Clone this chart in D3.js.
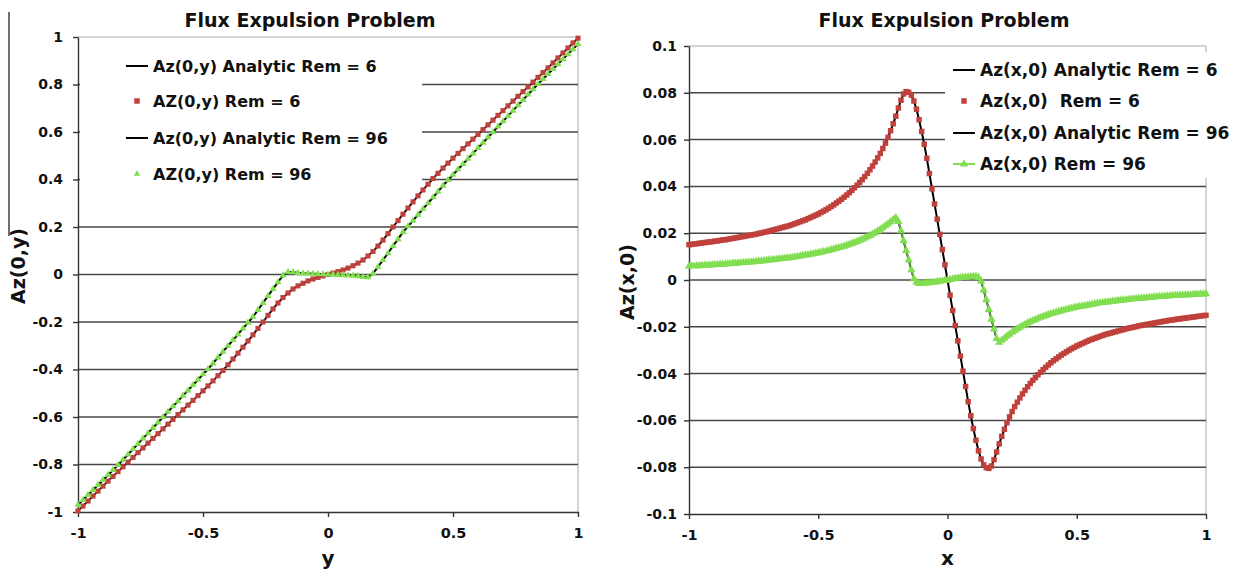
<!DOCTYPE html>
<html>
<head>
<meta charset="utf-8">
<script src="https://cdn.jsdelivr.net/npm/d3@7"></script>
<style>
  body { margin: 0; background: #fff; }
  svg text { font-family: "DejaVu Sans", Verdana, sans-serif; font-weight: bold; fill: #111; white-space: pre; }
</style>
</head>
<body>
<div id="chart"></div>
<script>
// ---- data ----
// left panel: Az(0,y), sampled every 0.02 in y
// (the analytic curves sit right on top of the numerical points, so they share the values)
var azY6 = [
  -0.995, -0.975, -0.954, -0.933, -0.912, -0.891, -0.87, -0.85, -0.83, -0.81,
  -0.79, -0.77, -0.75, -0.73, -0.71, -0.69, -0.67, -0.65, -0.63, -0.61,
  -0.59, -0.57, -0.55, -0.53, -0.51, -0.49, -0.469, -0.448, -0.426, -0.404,
  -0.38, -0.356, -0.331, -0.306, -0.28, -0.254, -0.227, -0.2, -0.172, -0.145,
  -0.12, -0.097, -0.078, -0.061, -0.048, -0.037, -0.027, -0.019, -0.012, -0.006,
  0,
  0.006, 0.012, 0.019, 0.027, 0.037, 0.048, 0.061, 0.078, 0.097, 0.12,
  0.145, 0.172, 0.2, 0.227, 0.254, 0.28, 0.306, 0.331, 0.356, 0.38,
  0.404, 0.426, 0.448, 0.469, 0.49, 0.51, 0.53, 0.55, 0.57, 0.59,
  0.61, 0.63, 0.65, 0.67, 0.69, 0.71, 0.73, 0.75, 0.77, 0.79,
  0.81, 0.83, 0.85, 0.87, 0.891, 0.912, 0.933, 0.954, 0.975, 0.995
];
var azY96 = [
  -0.97, -0.949, -0.928, -0.907, -0.886, -0.865, -0.844, -0.823, -0.802, -0.78,
  -0.758, -0.735, -0.713, -0.69, -0.668, -0.645, -0.623, -0.6, -0.578, -0.555,
  -0.533, -0.51, -0.488, -0.465, -0.443, -0.42, -0.398, -0.374, -0.349, -0.325,
  -0.3, -0.276, -0.252, -0.227, -0.203, -0.178, -0.149, -0.12, -0.09, -0.061,
  -0.032, -0.004, 0.011, 0.01, 0.007, 0.005, 0.004, 0.003, 0.002, 0.001,
  0,
  -0.001, -0.002, -0.003, -0.004, -0.005, -0.007, -0.01, -0.011, 0.004, 0.032,
  0.061, 0.09, 0.12, 0.149, 0.178, 0.203, 0.227, 0.252, 0.276, 0.3,
  0.325, 0.349, 0.374, 0.398, 0.42, 0.443, 0.465, 0.488, 0.51, 0.533,
  0.555, 0.578, 0.6, 0.623, 0.645, 0.668, 0.69, 0.713, 0.735, 0.758,
  0.78, 0.802, 0.823, 0.844, 0.865, 0.886, 0.907, 0.928, 0.949, 0.97
];

// right panel: Az(x,0), sampled every 0.01 in x
var azX6 = [
  0.0151, 0.0152, 0.0154, 0.0155, 0.0157, 0.0158, 0.0160, 0.0161, 0.0163, 0.0164,
  0.0166, 0.0167, 0.0169, 0.0171, 0.0172, 0.0174, 0.0176, 0.0178, 0.0180, 0.0182,
  0.0184, 0.0186, 0.0188, 0.0190, 0.0192, 0.0194, 0.0196, 0.0199, 0.0201, 0.0204,
  0.0206, 0.0209, 0.0212, 0.0215, 0.0218, 0.0221, 0.0224, 0.0227, 0.0230, 0.0233,
  0.0237, 0.0241, 0.0245, 0.0249, 0.0253, 0.0257, 0.0262, 0.0267, 0.0272, 0.0277,
  0.0282, 0.0288, 0.0294, 0.0300, 0.0307, 0.0314, 0.0321, 0.0329, 0.0337, 0.0345,
  0.0354, 0.0363, 0.0373, 0.0383, 0.0394, 0.0405, 0.0417, 0.0429, 0.0442, 0.0456,
  0.0471, 0.0487, 0.0504, 0.0522, 0.0541, 0.0562, 0.0585, 0.0610, 0.0638, 0.0668,
  0.0700, 0.0735, 0.0768, 0.0795, 0.0805, 0.0802, 0.0790, 0.0765, 0.0730, 0.0685,
  0.0635, 0.0580, 0.0520, 0.0455, 0.0390, 0.0325, 0.0260, 0.0195, 0.0130, 0.0065,
  0,
  -0.0065, -0.0130, -0.0195, -0.0260, -0.0325, -0.0390, -0.0455, -0.0520, -0.0580, -0.0635,
  -0.0685, -0.0730, -0.0765, -0.0790, -0.0802, -0.0805, -0.0795, -0.0768, -0.0735, -0.0700,
  -0.0668, -0.0638, -0.0610, -0.0585, -0.0562, -0.0541, -0.0522, -0.0504, -0.0487, -0.0471,
  -0.0456, -0.0442, -0.0429, -0.0417, -0.0405, -0.0394, -0.0383, -0.0373, -0.0363, -0.0354,
  -0.0345, -0.0337, -0.0329, -0.0321, -0.0314, -0.0307, -0.0300, -0.0294, -0.0288, -0.0282,
  -0.0277, -0.0272, -0.0267, -0.0262, -0.0257, -0.0253, -0.0249, -0.0245, -0.0241, -0.0237,
  -0.0233, -0.0230, -0.0227, -0.0224, -0.0221, -0.0218, -0.0215, -0.0212, -0.0209, -0.0206,
  -0.0204, -0.0201, -0.0199, -0.0196, -0.0194, -0.0192, -0.0190, -0.0188, -0.0186, -0.0184,
  -0.0182, -0.0180, -0.0178, -0.0176, -0.0174, -0.0172, -0.0171, -0.0169, -0.0167, -0.0166,
  -0.0164, -0.0163, -0.0161, -0.0160, -0.0158, -0.0157, -0.0155, -0.0154, -0.0152, -0.0151
];
var azX96 = [
  0.0059, 0.0060, 0.0060, 0.0061, 0.0061, 0.0062, 0.0063, 0.0063, 0.0064, 0.0065,
  0.0065, 0.0066, 0.0067, 0.0067, 0.0068, 0.0069, 0.0070, 0.0071, 0.0071, 0.0072,
  0.0073, 0.0074, 0.0075, 0.0076, 0.0077, 0.0078, 0.0079, 0.0080, 0.0081, 0.0082,
  0.0084, 0.0085, 0.0086, 0.0087, 0.0088, 0.0090, 0.0091, 0.0092, 0.0094, 0.0095,
  0.0097, 0.0098, 0.0100, 0.0102, 0.0104, 0.0106, 0.0108, 0.0110, 0.0112, 0.0114,
  0.0116, 0.0118, 0.0121, 0.0123, 0.0126, 0.0129, 0.0132, 0.0135, 0.0138, 0.0141,
  0.0144, 0.0148, 0.0152, 0.0156, 0.0160, 0.0164, 0.0169, 0.0174, 0.0179, 0.0184,
  0.0190, 0.0196, 0.0202, 0.0209, 0.0216, 0.0224, 0.0232, 0.0240, 0.0249, 0.0258,
  0.0266, 0.0250, 0.0210, 0.0168, 0.0126, 0.0085, 0.0043, 0.0005, -0.0010, -0.0015,
  -0.0015, -0.0014, -0.0013, -0.0012, -0.0011, -0.0010, -0.0008, -0.0006, -0.0004, -0.0002,
  0,
  0.0002, 0.0004, 0.0006, 0.0008, 0.0010, 0.0011, 0.0012, 0.0013, 0.0014, 0.0015,
  0.0015, 0.0010, -0.0005, -0.0043, -0.0085, -0.0126, -0.0168, -0.0210, -0.0250, -0.0266,
  -0.0258, -0.0249, -0.0240, -0.0232, -0.0224, -0.0216, -0.0209, -0.0202, -0.0196, -0.0190,
  -0.0184, -0.0179, -0.0174, -0.0169, -0.0164, -0.0160, -0.0156, -0.0152, -0.0148, -0.0144,
  -0.0141, -0.0138, -0.0135, -0.0132, -0.0129, -0.0126, -0.0123, -0.0121, -0.0118, -0.0116,
  -0.0114, -0.0112, -0.0110, -0.0108, -0.0106, -0.0104, -0.0102, -0.0100, -0.0098, -0.0097,
  -0.0095, -0.0094, -0.0092, -0.0091, -0.0090, -0.0088, -0.0087, -0.0086, -0.0085, -0.0084,
  -0.0082, -0.0081, -0.0080, -0.0079, -0.0078, -0.0077, -0.0076, -0.0075, -0.0074, -0.0073,
  -0.0072, -0.0071, -0.0071, -0.0070, -0.0069, -0.0068, -0.0067, -0.0067, -0.0066, -0.0065,
  -0.0065, -0.0064, -0.0063, -0.0063, -0.0062, -0.0061, -0.0061, -0.0060, -0.0060, -0.0059
];

// sample positions (regular grids)
var ySamples = d3.range(101).map(function(i) { return -1 + i * 0.02; });
var xSamples = d3.range(201).map(function(i) { return -1 + i * 0.01; });

// ticks and labels
var xTicks = [-1, -0.5, 0, 0.5, 1];
var yTicksLeft = [-1, -0.8, -0.6, -0.4, -0.2, 0, 0.2, 0.4, 0.6, 0.8, 1];
var yTicksRight = [-0.1, -0.08, -0.06, -0.04, -0.02, 0, 0.02, 0.04, 0.06, 0.08, 0.1];
var legendLeft = ["Az(0,y) Analytic Rem = 6", "AZ(0,y) Rem = 6", "Az(0,y) Analytic Rem = 96", "AZ(0,y) Rem = 96"];
var legendRight = ["Az(x,0) Analytic Rem = 6", "Az(x,0)  Rem = 6", "Az(x,0) Analytic Rem = 96", "Az(x,0) Rem = 96"];

var red = "#c0403c";
var green = "#80de50";

var svg = d3.select("#chart")
  .append("svg")
  .attr("width", 1233)
  .attr("height", 575);

// stray frame line at the far left of the page
svg.append("line")
  .attr("x1", 9).attr("x2", 9)
  .attr("y1", 12).attr("y2", 236)
  .attr("stroke", "#111").attr("stroke-width", 1.2);

function toPoints(xs, vals) {
  return xs.map(function(d, i) { return { x: d, v: vals[i] }; });
}

function drawPanel(p) {
  var g = svg.append("g");

  var x = d3.scaleLinear().domain([-1, 1]).range([p.left, p.right]);
  var y = d3.scaleLinear().domain(p.yDomain).range([p.bottom, p.top]);

  // light plot frame on top and right
  g.append("line")
    .attr("x1", p.left).attr("x2", p.right)
    .attr("y1", y(p.yDomain[1])).attr("y2", y(p.yDomain[1]))
    .attr("stroke", "#c4c4c4").attr("stroke-width", 1.5);
  g.append("line")
    .attr("x1", p.right).attr("x2", p.right)
    .attr("y1", p.top).attr("y2", p.bottom)
    .attr("stroke", "#c4c4c4").attr("stroke-width", 1.5);

  // horizontal gridlines
  g.selectAll(".grid")
    .data(p.yTicks.slice(1, p.yTicks.length - 1))
    .enter().append("line")
      .attr("x1", p.left).attr("x2", p.right)
      .attr("y1", function(d) { return y(d); })
      .attr("y2", function(d) { return y(d); })
      .attr("stroke", "#474747").attr("stroke-width", 1.5);

  // legend background hides the gridlines behind it
  g.append("rect")
    .attr("x", p.legendBox[0]).attr("y", p.legendBox[1])
    .attr("width", p.legendBox[2]).attr("height", p.legendBox[3])
    .attr("fill", "#fff");

  // axes
  var bottomAxis = d3.axisBottom(x).tickValues(xTicks).tickSize(5).tickSizeOuter(0)
    .tickPadding(11).tickFormat(function(d) { return String(d); });
  var leftAxis = d3.axisLeft(y).tickValues(p.yTicks).tickSize(5).tickSizeOuter(0)
    .tickPadding(p.yPad).tickFormat(function(d) { return String(d); });

  var ax = g.append("g")
    .attr("transform", "translate(0," + p.bottom + ")")
    .call(bottomAxis);
  var ay = g.append("g")
    .attr("transform", "translate(" + p.left + ",0)")
    .call(leftAxis);
  [ax, ay].forEach(function(a) {
    a.attr("font-family", null);
    a.selectAll("path, line").attr("stroke", "#333").attr("stroke-width", 1.4);
    a.selectAll("text").attr("fill", "#111");
  });
  ax.attr("font-size", 14.5);
  ay.attr("font-size", 14);

  // analytic curves (black) under the markers
  var line = d3.line()
    .x(function(d) { return x(d.x); })
    .y(function(d) { return y(d.v); });

  p.series.forEach(function(s) {
    g.append("path")
      .datum(toPoints(s.xs, s.vals))
      .attr("d", line)
      .attr("fill", "none")
      .attr("stroke", "#000")
      .attr("stroke-width", 2);
  });

  p.series.forEach(function(s) {
    var pts = toPoints(s.xs, s.vals);
    if (s.joined) {
      g.append("path")
        .datum(pts)
        .attr("d", line)
        .attr("fill", "none")
        .attr("stroke", s.color)
        .attr("stroke-width", 1.5)
        .attr("opacity", 0.8);
    }
    g.selectAll(".m" + s.key)
      .data(pts)
      .enter().append("path")
        .attr("d", d3.symbol().type(s.shape).size(s.size))
        .attr("transform", function(d) { return "translate(" + x(d.x) + "," + y(d.v) + ")"; })
        .attr("fill", s.color);
  });

  // legend
  var lg = g.append("g");
  p.legend.forEach(function(label, i) {
    var yy = p.legendRows[i];
    var kind = p.legendKinds[i];
    var mid = p.legendX - 16;
    if (kind === "line" || kind === "greenline") {
      lg.append("line")
        .attr("x1", p.legendX - 27).attr("x2", p.legendX - 5)
        .attr("y1", yy).attr("y2", yy)
        .attr("stroke", kind === "line" ? "#000" : green)
        .attr("stroke-width", 2);
    }
    if (kind === "square") {
      lg.append("path")
        .attr("d", d3.symbol().type(d3.symbolSquare).size(30))
        .attr("transform", "translate(" + mid + "," + yy + ")")
        .attr("fill", red);
    }
    if (kind === "triangle" || kind === "greenline") {
      lg.append("path")
        .attr("d", d3.symbol().type(d3.symbolTriangle).size(kind === "triangle" ? 18 : 30))
        .attr("transform", "translate(" + mid + "," + yy + ")")
        .attr("fill", green);
    }
    lg.append("text")
      .attr("x", p.legendX).attr("y", yy)
      .attr("dy", "0.35em")
      .attr("font-size", p.legendFont)
      .text(label);
  });

  // title and axis labels
  g.append("text")
    .attr("x", p.titleX).attr("y", 27)
    .attr("text-anchor", "middle")
    .attr("font-size", 19)
    .text("Flux Expulsion Problem");

  g.append("text")
    .attr("x", x(0)).attr("y", 565)
    .attr("text-anchor", "middle")
    .attr("font-size", 20)
    .text(p.xLabel);

  g.append("text")
    .attr("transform", "translate(" + p.yLabelX + "," + p.yLabelY + ") rotate(-90)")
    .attr("text-anchor", "middle")
    .attr("font-size", 19)
    .text(p.yLabel);
}

drawPanel({
  left: 78, right: 578, top: 37, bottom: 512,
  yDomain: [-1, 1], yTicks: yTicksLeft, yPad: 10,
  legendBox: [80, 42, 342, 162],
  legend: legendLeft,
  legendKinds: ["line", "square", "line", "triangle"],
  legendRows: [66, 101, 138, 174],
  legendX: 153, legendFont: 16,
  titleX: 310, xLabel: "y", yLabel: "Az(0,y)", yLabelX: 25, yLabelY: 266,
  series: [
    { key: "l6", xs: ySamples, vals: azY6, color: red, shape: d3.symbolSquare, size: 26 },
    { key: "l96", xs: ySamples, vals: azY96, color: green, shape: d3.symbolTriangle, size: 22 }
  ]
});

drawPanel({
  left: 689, right: 1206, top: 46, bottom: 514,
  yDomain: [-0.1, 0.1], yTicks: yTicksRight, yPad: 7,
  legendBox: [945, 52, 288, 126],
  legend: legendRight,
  legendKinds: ["line", "square", "line", "greenline"],
  legendRows: [70, 101, 133, 164],
  legendX: 980, legendFont: 17,
  titleX: 944, xLabel: "x", yLabel: "Az(x,0)", yLabelX: 634, yLabelY: 282,
  series: [
    { key: "r6", xs: xSamples, vals: azX6, color: red, shape: d3.symbolSquare, size: 30 },
    { key: "r96", xs: xSamples, vals: azX96, color: green, shape: d3.symbolTriangle, size: 30, joined: true }
  ]
});
</script>
</body>
</html>
